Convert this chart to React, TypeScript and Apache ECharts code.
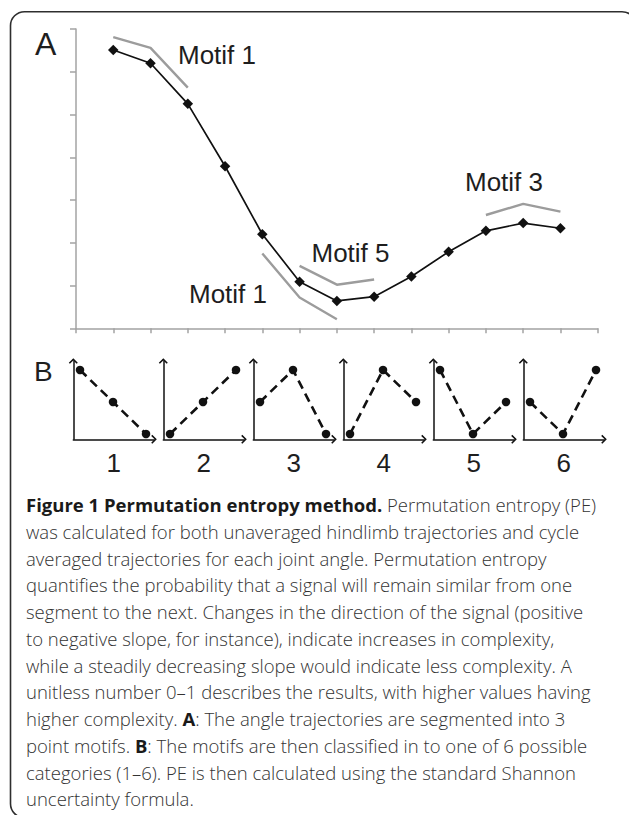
import React, { useEffect, useRef } from "react";
import * as echarts from "echarts";

// ---- Panel A data ----
const samplePositions = [1, 2, 3, 4, 5, 6, 7, 8, 9, 10, 11, 12, 13];
const angleValues = [6.51, 6.2, 5.25, 3.79, 2.2, 1.09, 0.64, 0.74, 1.21, 1.79, 2.28, 2.46, 2.34];

// gray motif guide traces
const motifTopX = [1, 2, 3];
const motifTopY = [6.81, 6.56, 5.63];
const motifLowX = [5, 6, 7];
const motifLowY = [1.75, 0.72, 0.21];
const motifFiveX = [6, 7, 8];
const motifFiveY = [1.46, 1.02, 1.14];
const motifThreeX = [11, 12, 13];
const motifThreeY = [2.65, 2.91, 2.73];
const motifLabels = ["Motif 1", "Motif 1", "Motif 5", "Motif 3"];

// ---- Panel B data ----
const patternNames = ["1", "2", "3", "4", "5", "6"];
const patternSteps = [1, 2, 3];
const patternRanks = [
  [3, 2, 1],
  [1, 2, 3],
  [2, 3, 1],
  [1, 3, 2],
  [3, 1, 2],
  [2, 1, 3],
];

// ---- Caption ----
const captionLines = [
  "{b|Figure 1 Permutation entropy method.} Permutation entropy (PE)",
  "was calculated for both unaveraged hindlimb trajectories and cycle",
  "averaged trajectories for each joint angle. Permutation entropy",
  "quantifies the probability that a signal will remain similar from one",
  "segment to the next. Changes in the direction of the signal (positive",
  "to negative slope, for instance), indicate increases in complexity,",
  "while a steadily decreasing slope would indicate less complexity. A",
  "unitless number 0\u20131 describes the results, with higher values having",
  "higher complexity. {b|A}: The angle trajectories are segmented into 3",
  "point motifs. {b|B}: The motifs are then classified in to one of 6 possible",
  "categories (1\u20136). PE is then calculated using the standard Shannon",
  "uncertainty formula.",
];

const SANS = "'Liberation Sans', Arial, Helvetica, sans-serif";
const CAP = "'Open Sans', 'Noto Sans', sans-serif";
const ARROW = "path://M4.5,0 L9,4.5 L7.9,5.6 L4.5,2.2 L1.1,5.6 L0,4.5 Z";

function label(text: string, x: number, baseline: number, fs: number) {
  return {
    type: "text",
    x,
    y: baseline - 0.3465 * fs,
    style: {
      text,
      fontFamily: SANS,
      fontSize: fs,
      fill: "#1e1e1e",
      align: "left",
      verticalAlign: "middle",
    },
  };
}

function buildOption() {
  const grids: any[] = [
    { left: 76, top: 29, width: 521.7, height: 299.3 },
  ];
  const xAxes: any[] = [
    {
      type: "value",
      gridIndex: 0,
      min: 0,
      max: 14,
      interval: 1,
      axisLine: { show: true, lineStyle: { color: "#a3a3a3", width: 1.5 } },
      axisTick: { show: true, length: 5, lineStyle: { color: "#a3a3a3", width: 1.5 } },
      axisLabel: { show: false },
      splitLine: { show: false },
    },
  ];
  const yAxes: any[] = [
    {
      type: "value",
      gridIndex: 0,
      min: 0,
      max: 7,
      interval: 1,
      axisLine: { show: true, lineStyle: { color: "#a3a3a3", width: 1.5 } },
      axisTick: { show: true, length: 6, lineStyle: { color: "#a3a3a3", width: 1.5 } },
      axisLabel: { show: false },
      splitLine: { show: false },
    },
  ];

  const gray = (xs: number[], ys: number[]) => ({
    type: "line",
    xAxisIndex: 0,
    yAxisIndex: 0,
    data: xs.map((x, i) => [x, ys[i]]),
    showSymbol: false,
    symbol: "none",
    lineStyle: { color: "#9c9c9c", width: 2.4 },
    z: 2,
  });

  const series: any[] = [
    gray(motifTopX, motifTopY),
    gray(motifLowX, motifLowY),
    gray(motifFiveX, motifFiveY),
    gray(motifThreeX, motifThreeY),
    {
      type: "line",
      xAxisIndex: 0,
      yAxisIndex: 0,
      data: samplePositions.map((x, i) => [x, angleValues[i]]),
      symbol: "diamond",
      symbolSize: 10.5,
      itemStyle: { color: "#111" },
      lineStyle: { color: "#111", width: 1.7 },
      z: 3,
    },
  ];

  patternRanks.forEach((ranks, i) => {
    const gi = i + 1;
    grids.push({ left: 73.3 + 90 * i, top: 361, width: 80.7, height: 78.3 });
    xAxes.push({
      type: "value",
      gridIndex: gi,
      min: 0.797,
      max: 3.242,
      name: patternNames[i],
      nameLocation: "middle",
      nameGap: 10.4,
      nameTextStyle: { fontFamily: SANS, fontSize: 26, lineHeight: 26, color: "#1e1e1e" },
      axisLine: {
        show: true,
        onZero: false,
        symbol: ["none", ARROW],
        symbolSize: [9, 5.6],
        lineStyle: { color: "#111", width: 1.5 },
      },
      axisTick: { show: false },
      axisLabel: { show: false },
      splitLine: { show: false },
    });
    yAxes.push({
      type: "value",
      gridIndex: gi,
      min: 0.834,
      max: 3.28,
      axisLine: {
        show: true,
        onZero: false,
        symbol: ["none", ARROW],
        symbolSize: [9, 5.6],
        lineStyle: { color: "#111", width: 1.5 },
      },
      axisTick: { show: false },
      axisLabel: { show: false },
      splitLine: { show: false },
    });
    series.push({
      type: "line",
      xAxisIndex: gi,
      yAxisIndex: gi,
      data: patternSteps.map((s, k) => [s, ranks[k]]),
      symbol: "circle",
      symbolSize: 8.5,
      itemStyle: { color: "#111" },
      lineStyle: { color: "#111", width: 2.6, type: [9, 5.5] },
      z: 3,
    });
  });

  const graphic: any[] = [
    {
      type: "rect",
      shape: { x: 10.5, y: 11.7, width: 625.5, height: 806, r: 14 },
      style: { fill: "none", stroke: "#2e2e2e", lineWidth: 1.6 },
      silent: true,
      z: 0,
    },
    label("A", 35, 55, 32),
    label(motifLabels[0], 178, 64, 26),
    label(motifLabels[1], 189, 302.7, 26),
    label(motifLabels[2], 311.5, 261.7, 26),
    label(motifLabels[3], 465, 190.7, 26),
    label("B", 34, 381.7, 28),
    {
      type: "text",
      x: 26,
      y: 491.2,
      style: {
        text: captionLines.join("\n"),
        fontFamily: CAP,
        fontSize: 18.5,
        fontWeight: 300,
        lineHeight: 26.75,
        fill: "#333",
        align: "left",
        verticalAlign: "top",
        rich: {
          b: {
            fontFamily: CAP,
            fontSize: 18.5,
            lineHeight: 26.75,
            fontWeight: "bold",
            fill: "#1a1a1a",
          },
        },
      },
    },
  ];

  return {
    animation: false,
    backgroundColor: "#fff",
    grid: grids,
    xAxis: xAxes,
    yAxis: yAxes,
    series,
    graphic,
  };
}

export default function App() {
  const ref = useRef<HTMLDivElement>(null);
  useEffect(() => {
    const chart = echarts.init(ref.current!, null, { renderer: "svg" });
    chart.setOption(buildOption() as any);
    return () => chart.dispose();
  }, []);
  return (
    <div
      ref={ref}
      style={{ position: "absolute", left: 0, top: 0, width: 629, height: 815, background: "#fff" }}
    />
  );
}
